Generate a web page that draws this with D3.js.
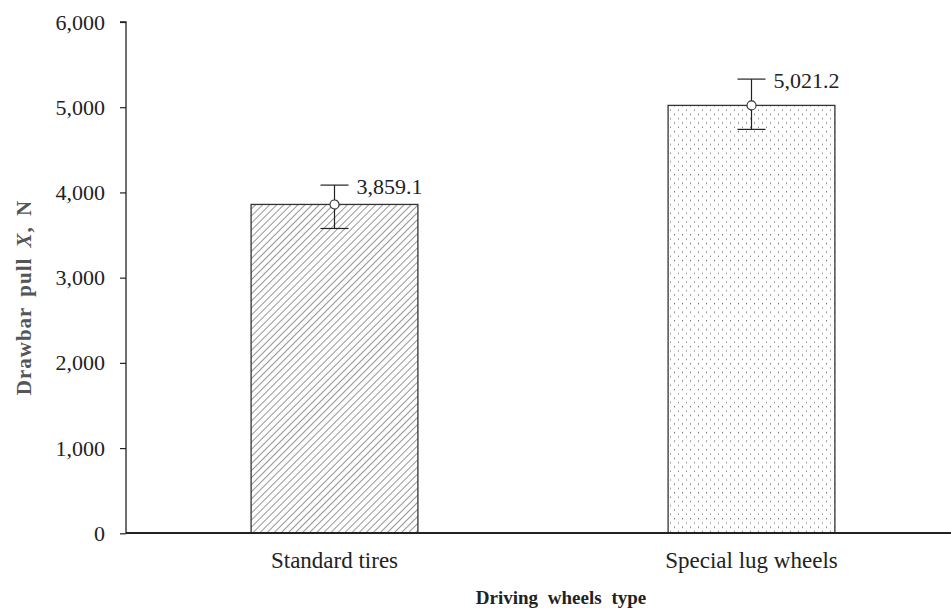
<!DOCTYPE html>
<html>
<head>
<meta charset="utf-8">
<script src="https://cdn.jsdelivr.net/npm/d3@7"></script>
<style>
  html, body { margin: 0; padding: 0; background: #fff; }
  svg { display: block; }
  svg text { font-family: "Liberation Serif", "Times New Roman", serif !important; fill: #222; }
</style>
</head>
<body>
<svg id="chart" width="951" height="608"></svg>
<script>
// Drawbar pull by driving wheel type
const categories = ["Standard tires", "Special lug wheels"];
const means = [3859.1, 5021.2];
const errLow = [3577, 4740];
const errHigh = [4086, 5330];
const valueLabels = ["3,859.1", "5,021.2"];
const yTicks = [0, 1000, 2000, 3000, 4000, 5000, 6000];
const patterns = ["hatch", "dots"];

const svg = d3.select("#chart");
const margin = { left: 126, top: 22, bottom: 75 };
const W = 951, H = 608;
const y0 = H - margin.bottom;

const x = d3.scaleBand().domain(categories).range([margin.left, 960]).paddingInner(0.6).paddingOuter(0.3);
const y = d3.scaleLinear().domain([0, 6000]).range([y0 + 0.3, margin.top]);

// fill patterns
const defs = svg.append("defs");
const hatch = defs.append("pattern").attr("id", "hatch").attr("patternUnits", "userSpaceOnUse")
  .attr("width", 5).attr("height", 5).attr("patternTransform", "rotate(45)");
hatch.append("rect").attr("width", 5).attr("height", 5).attr("fill", "#fff");
hatch.append("line").attr("x1", 0).attr("y1", 0).attr("x2", 0).attr("y2", 5)
  .attr("stroke", "#8a8a8a").attr("stroke-width", 1.8);

const dots = defs.append("pattern").attr("id", "dots").attr("patternUnits", "userSpaceOnUse")
  .attr("width", 8).attr("height", 8.6);
dots.append("rect").attr("width", 8).attr("height", 8.6).attr("fill", "#fff");
dots.append("rect").attr("x", 2).attr("y", 2).attr("width", 1).attr("height", 1.2).attr("fill", "#555");
dots.append("rect").attr("x", 6).attr("y", 6.3).attr("width", 1).attr("height", 1.2).attr("fill", "#777");

// bars
svg.append("g").selectAll("rect").data(categories).join("rect")
  .attr("x", d => x(d))
  .attr("y", (d, i) => y(means[i]))
  .attr("width", x.bandwidth())
  .attr("height", (d, i) => y(0) - y(means[i]))
  .attr("fill", (d, i) => `url(#${patterns[i]})`)
  .attr("stroke", "#333")
  .attr("stroke-width", 1.3);

// axes
const yAxis = d3.axisLeft(y).tickValues(yTicks).tickSize(6).tickPadding(15)
  .tickFormat(d3.format(","));
const gy = svg.append("g").attr("transform", `translate(${margin.left},0)`).call(yAxis);
gy.attr("font-family", null);
gy.select(".domain").attr("stroke", "#222").attr("stroke-width", 1.3).attr("d", `M-6,${y(6000)}H0V${y(0)}`);
gy.selectAll(".tick line").attr("stroke", "#222").attr("stroke-width", 1.2);
gy.selectAll(".tick text").attr("font-size", 22).attr("fill", "#222");

const xAxis = d3.axisBottom(x).tickSize(0).tickPadding(19);
const gx = svg.append("g").attr("transform", `translate(0,${y0})`).call(xAxis);
gx.attr("font-family", null);
gx.select(".domain").attr("stroke", "#222").attr("stroke-width", 2).attr("d", `M${margin.left},0H${W}`);
gx.selectAll(".tick text").attr("font-size", 23).attr("fill", "#222");

// error bars and markers
const eb = svg.append("g").selectAll("g").data(categories).join("g")
  .attr("transform", d => `translate(${x(d) + x.bandwidth() / 2},0)`);
eb.append("line").attr("x1", 0).attr("x2", 0)
  .attr("y1", (d, i) => y(errLow[i])).attr("y2", (d, i) => y(errHigh[i]))
  .attr("stroke", "#222").attr("stroke-width", 1.2);
eb.append("line").attr("x1", -14).attr("x2", 14)
  .attr("y1", (d, i) => y(errLow[i])).attr("y2", (d, i) => y(errLow[i]))
  .attr("stroke", "#222").attr("stroke-width", 1.2);
eb.append("line").attr("x1", -14).attr("x2", 14)
  .attr("y1", (d, i) => y(errHigh[i])).attr("y2", (d, i) => y(errHigh[i]))
  .attr("stroke", "#222").attr("stroke-width", 1.2);
eb.append("circle").attr("cx", 0).attr("cy", (d, i) => y(means[i])).attr("r", 4.5)
  .attr("fill", "#fff").attr("stroke", "#333").attr("stroke-width", 1.1);
eb.append("text")
  .attr("x", 22)
  .attr("y", (d, i) => y(errHigh[i]) + 9)
  .attr("font-size", 22)
  .text((d, i) => valueLabels[i]);

// axis titles
svg.append("text")
  .attr("transform", `translate(31,${(margin.top + y0) / 2 + 20}) rotate(-90)`)
  .attr("text-anchor", "middle").attr("font-size", 21).attr("font-weight", "bold")
  .attr("letter-spacing", 1).attr("word-spacing", 4)
  .style("fill", "#555")
  .html('Drawbar pull <tspan font-style="italic">X</tspan>, N');

svg.append("text")
  .attr("x", 561).attr("y", 604)
  .attr("text-anchor", "middle").attr("font-size", 19).attr("font-weight", "bold")
  .attr("word-spacing", 5)
  .text("Driving wheels type");
</script>
</body>
</html>
